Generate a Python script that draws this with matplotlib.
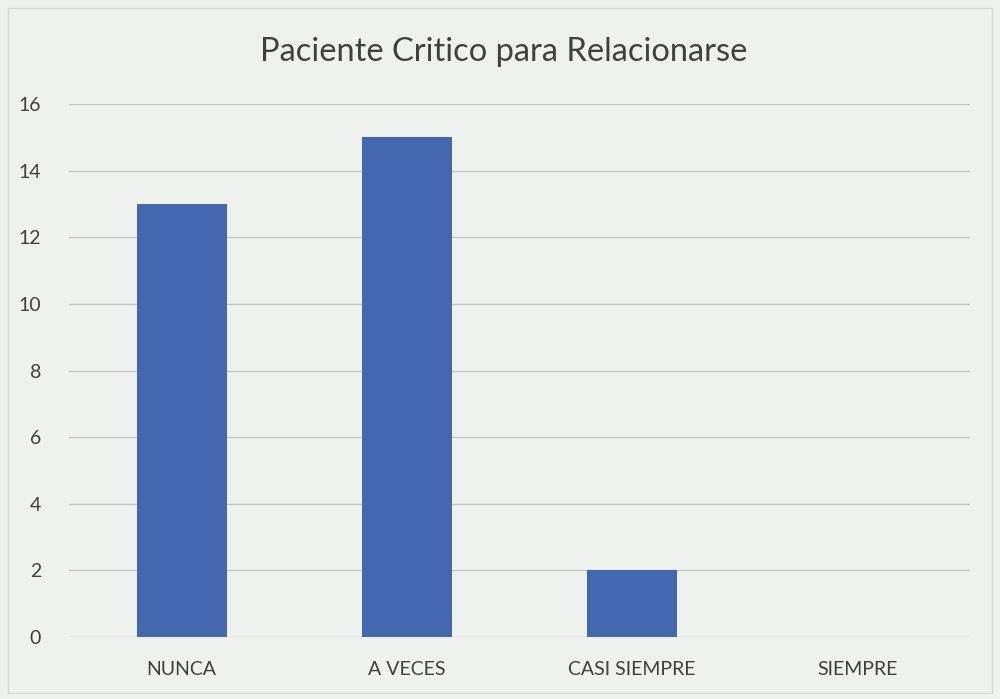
import matplotlib
matplotlib.use("Agg")
import matplotlib.pyplot as plt
from matplotlib.patches import Rectangle

categorias = ["NUNCA", "A VECES", "CASI SIEMPRE", "SIEMPRE"]
valores = [13, 15, 2, 0]
y_ticks = [0, 2, 4, 6, 8, 10, 12, 14, 16]

plt.rcParams['font.family'] = ['Lato', 'DejaVu Sans']

fondo = "#eef1ee"
azul = "#4368b0"
gris_texto = "#3f3f3f"

fig = plt.figure(figsize=(10, 6.99), dpi=100, facecolor=fondo)
ax = fig.add_axes([0.069, 0.0887, 0.901, 0.7624], facecolor=fondo)

# marco del grafico
fig.patches.append(Rectangle((0.008, 0.008), 0.984, 0.98, transform=fig.transFigure,
                             fill=False, edgecolor="#d6d8d6", linewidth=1))

x = range(len(categorias))
ax.bar(x, valores, width=0.4, color=azul, zorder=3)

ax.set_xlim(-0.5, len(categorias) - 0.5)
ax.set_ylim(0, 16)
ax.set_yticks(y_ticks)
ax.set_xticks(list(x))
ax.set_xticklabels(categorias)

ax.grid(axis='y', color="#c4c4c4", linewidth=1, zorder=0)
for s in ax.spines.values():
    s.set_visible(False)
ax.tick_params(axis='both', length=0, labelsize=14, colors=gris_texto)
ax.tick_params(axis='x', pad=17)
ax.tick_params(axis='y', pad=20)

fig.text(0.504, 0.925, "Paciente Critico para Relacionarse", ha='center', va='center',
         fontsize=23.5, color="#404040")

fig.savefig("out.png", dpi=100, facecolor=fondo)
